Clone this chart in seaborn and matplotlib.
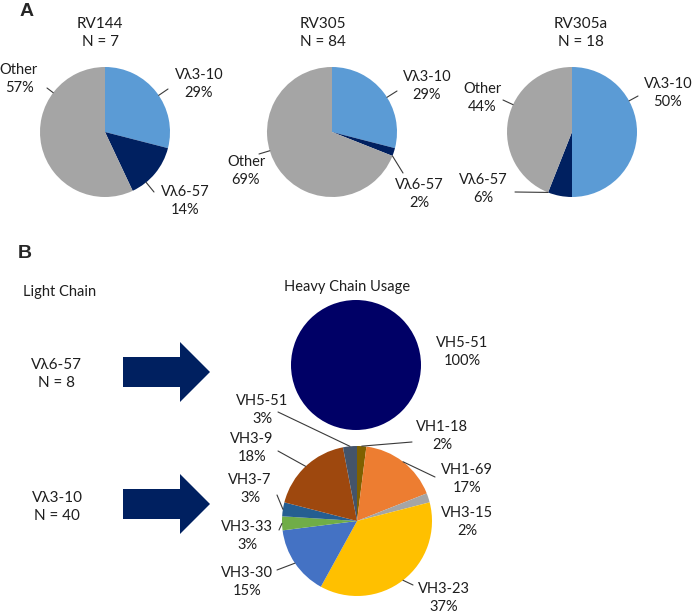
import math
import matplotlib
matplotlib.use("Agg")
import matplotlib.pyplot as plt
from matplotlib.patches import FancyArrow
import seaborn as sns

# --- data -------------------------------------------------------------
cohorts = ["RV144", "RV305", "RV305a"]
cohort_n = [7, 84, 18]
light_genes = ["Vλ3-10", "Vλ6-57", "Other"]
rv144_pct = [29, 14, 57]
rv305_pct = [29, 2, 69]
rv305a_pct = [50, 6, 44]

light_chains = ["Vλ6-57", "Vλ3-10"]
light_chain_n = [8, 40]
heavy_genes_v657 = ["VH5-51"]
heavy_pct_v657 = [100]
heavy_genes_v310 = ["VH1-18", "VH1-69", "VH3-15", "VH3-23", "VH3-30",
                    "VH3-33", "VH3-7", "VH3-9", "VH5-51"]
heavy_pct_v310 = [2, 17, 2, 37, 15, 3, 3, 18, 3]

# --- style ------------------------------------------------------------
sns.set_theme(style="white")
plt.rcParams["font.family"] = ["Lato", "DejaVu Sans"]
TXT = "#1e1e1e"
light_colors = sns.color_palette(["#5B9BD5", "#002060", "#A5A5A5"])
v657_colors = sns.color_palette(["#000066"])
v310_colors = sns.color_palette(["#7F6000", "#ED7D31", "#A5A5A5", "#FFC000", "#4472C4",
                                 "#70AD47", "#255E91", "#9E480E", "#44546A"])

# layout (pixel positions, y downwards)
W, H = 693, 615
pie_a_centers = [(105, 132), (332, 132), (572, 132)]
pie_a_radius = 65
title_a_pos = [(100, 33), (323, 33), (581, 33)]
label_a_pos = [
    [(199, 84), (185, 201), (19, 79)],
    [(427, 86), (419, 194), (246, 171)],
    [(668, 93), (483, 189), (482, 98)],
]
leader_a_ends = [
    [(168, 89), (154, 192), (47, 88)],
    [(397, 91), (403, 173), (259, 154)],
    [(638, 96), (515, 192), (503, 100)],
]

pie_b_centers = [(356, 365), (357, 521)]
pie_b_radius = [65, 75]
label_b_pos = [
    [(462, 352)],
    [(442, 436), (467, 479), (467, 522), (444, 598), (247, 582),
     (247, 536), (250, 489), (252, 448), (262, 410)],
]
leader_b_ends = [
    [None],
    [(412, 442), (435, 477), None, (413, 585), (277, 570),
     (279, 530), (277, 495), (278, 451), (278, 412)],
]
arrow_y = [372, 504]
light_label_pos = [(56, 374), (57, 507)]


def draw_pie(ax, values, names, colors, center, radius, label_pos, ends, mode):
    wedges, _ = ax.pie(values, colors=colors, startangle=-90, counterclock=True,
                       center=center, radius=radius, frame=True,
                       wedgeprops=dict(linewidth=0))
    cx, cy = center
    for w, name, val, pos, end in zip(wedges, names, values, label_pos, ends):
        ax.text(pos[0], pos[1], f"{name}\n{val}%", ha="center", va="center",
                fontsize=10.5, color=TXT, linespacing=1.45)
        if end is None:
            continue
        t1, t2 = w.theta1, w.theta2
        mid = (t1 + t2) / 2
        if mode == "mid":
            ang = mid
        else:
            ang = math.degrees(math.atan2(end[1] - cy, end[0] - cx))
            ang = mid + ((ang - mid + 180) % 360 - 180)
            ang = min(max(ang, t1), t2)
        sx = cx + radius * math.cos(math.radians(ang))
        sy = cy + radius * math.sin(math.radians(ang))
        ax.plot([sx, end[0]], [sy, end[1]], color="#3a3a3a", lw=0.8)


fig = plt.figure(figsize=(W / 100, H / 100), dpi=100)
ax = fig.add_axes([0, 0, 1, 1])

# panel A
fig.text(20 / W, 1 - 11 / H, "A", fontsize=14, fontweight="bold",
         family="Liberation Sans", va="center", ha="left")
for i, pct in enumerate([rv144_pct, rv305_pct, rv305a_pct]):
    tx, ty = title_a_pos[i]
    ax.text(tx, ty, f"{cohorts[i]}\nN = {cohort_n[i]}", ha="center", va="center",
            fontsize=11, color=TXT, linespacing=1.45)
    draw_pie(ax, pct, light_genes, light_colors, pie_a_centers[i], pie_a_radius,
             label_a_pos[i], leader_a_ends[i], "near")

# panel B
fig.text(18 / W, 1 - 253 / H, "B", fontsize=14, fontweight="bold",
         family="Liberation Sans", va="center", ha="left")
ax.text(60, 292, "Light Chain", ha="center", va="center", fontsize=10.5, color=TXT)
ax.text(347, 287, "Heavy Chain Usage", ha="center", va="center", fontsize=10.5, color=TXT)

for i, lc in enumerate(light_chains):
    lx, ly = light_label_pos[i]
    ax.text(lx, ly, f"{lc}\nN = {light_chain_n[i]}", ha="center", va="center",
            fontsize=11, color=TXT, linespacing=1.35)
    ax.add_patch(FancyArrow(123, arrow_y[i], 87, 0, width=30, head_width=60,
                            head_length=30, length_includes_head=True,
                            color="#002060", lw=0))

draw_pie(ax, heavy_pct_v657, heavy_genes_v657, v657_colors, pie_b_centers[0],
         pie_b_radius[0], label_b_pos[0], leader_b_ends[0], "mid")
draw_pie(ax, heavy_pct_v310, heavy_genes_v310, v310_colors, pie_b_centers[1],
         pie_b_radius[1], label_b_pos[1], leader_b_ends[1], "mid")

ax.set_xlim(0, W)
ax.set_ylim(H, 0)
ax.set_aspect("equal")
ax.axis("off")
fig.savefig("out.png", dpi=100)
